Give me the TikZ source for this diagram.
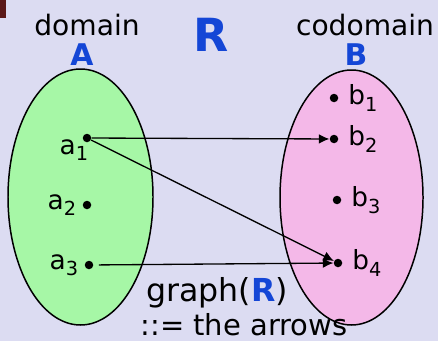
\documentclass[tikz,border=0pt]{standalone}
\usepackage{fontspec}
\setmainfont{DejaVu Sans}
\usetikzlibrary{arrows.meta, positioning}
\definecolor{backdrop}{HTML}{DCDCF2}
\definecolor{domfill}{HTML}{A6F7A6}
\definecolor{codfill}{HTML}{F4B8E8}
\definecolor{setblue}{HTML}{1446D6}
\definecolor{cornermark}{HTML}{5A1818}
\newcommand{\lowidx}[1]{\raisebox{-0.45ex}{\fontsize{11}{11}\selectfont #1}}

\begin{document}
\begin{tikzpicture}[
  x=0.02cm, y=-0.02cm,
  elem/.style={circle, fill=black, inner sep=0pt, minimum size=0.17cm},
  elemlbl/.style={font=\fontsize{15}{15}\selectfont},
  title/.style={font=\fontsize{16}{18}\selectfont},
  setname/.style={font=\fontsize{17}{17}\selectfont\bfseries\color{setblue}},
  arr/.style={-{Latex[length=6pt, width=5.5pt]}, line width=0.75pt}]
% backdrop and frame
\fill[backdrop] (0,0) rectangle (438,341);
\useasboundingbox (0,0) rectangle (438,341);
\fill[cornermark] (0,0) rectangle (6,18);
% the two sets
\filldraw[fill=domfill, line width=0.85pt] (80.5,197) ellipse [x radius=72.5, y radius=128];
\filldraw[fill=codfill, line width=0.85pt] (351.5,197.5) ellipse [x radius=71.5, y radius=127.5];
\node[title] (domname) at (87,25) {domain};
\node[title] (codname) at (365,25) {codomain};
\node[setname] (setA) at (82,55) {A};
\node[setname] (setB) at (356,55) {B};
\node[font=\fontsize{26}{26}\selectfont\bfseries\color{setblue}] (rel) at (211,35) {R};
% elements
\node[elem, label={[elemlbl, shift={(12,12)}]left:a\lowidx{1}}] (a1) at (87,138) {};
\node[elem, label={[elemlbl]left:a\lowidx{2}}] (a2) at (87,205) {};
\node[elem, label={[elemlbl]left:a\lowidx{3}}] (a3) at (89,265) {};
\node[elem, label={[elemlbl, label distance=2pt]right:b\lowidx{1}}] (b1) at (334,98) {};
\node[elem, label={[elemlbl, label distance=2pt]right:b\lowidx{2}}] (b2) at (334,139) {};
\node[elem, label={[elemlbl, label distance=2pt]right:b\lowidx{3}}] (b3) at (337,200) {};
\node[elem, label={[elemlbl, label distance=2pt]right:b\lowidx{4}}] (b4) at (338,263) {};
% the relation
\draw[arr] (a1) -- (b2);
\draw[arr] (a1) -- (b4);
\draw[arr, shorten <=3pt] (a3) -- (b4);
\node[font=\fontsize{18}{20}\selectfont] (graphlbl) at (217,293) {graph(\textcolor{setblue}{\textbf{R}})};
\node[font=\fontsize{16.5}{18}\selectfont] (arrowslbl) at (244,325) {::= the arrows};
\end{tikzpicture}
\end{document}
